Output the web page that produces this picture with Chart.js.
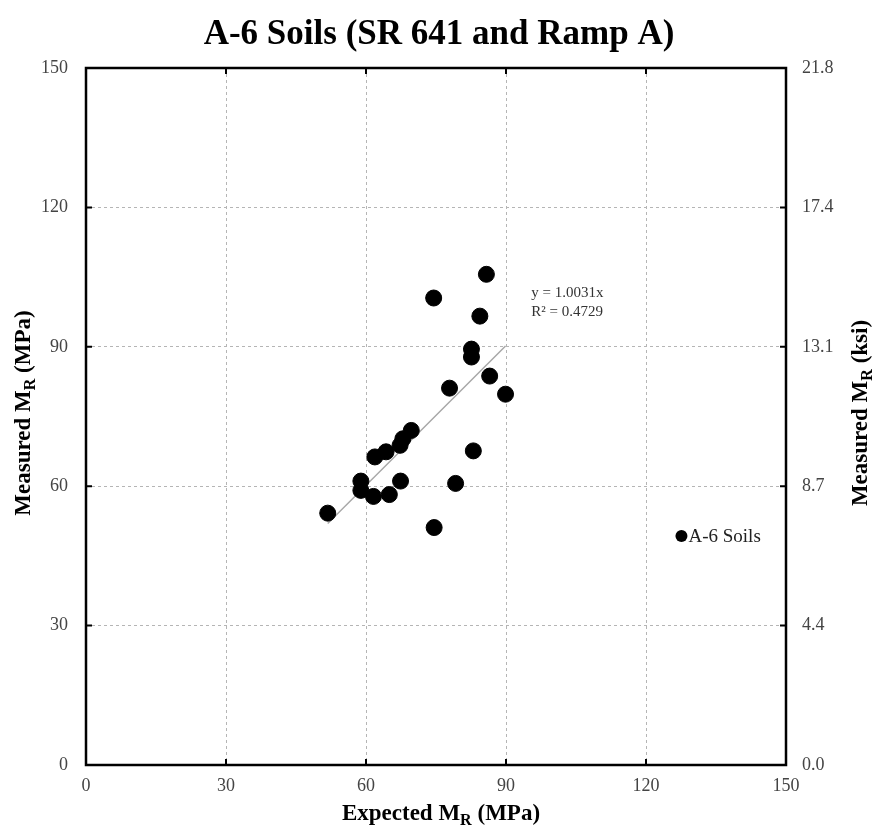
<!DOCTYPE html>
<html>
<head>
<meta charset="utf-8">
<script src="https://cdn.jsdelivr.net/npm/chart.js@4"></script>
<style>
  html, body { margin: 0; background: #fff; }
  #wrap { width: 878px; height: 834px; }
</style>
</head>
<body>
<div id="wrap"><canvas id="chart"></canvas></div>
<script>
// values (MPa)
const expectedMR = [85.8, 74.5, 84.4, 82.6, 82.6, 86.5, 77.9, 89.9, 69.7, 67.9, 67.3,
                    64.3, 61.9, 83.0, 58.9, 58.9, 61.6, 67.4, 65.0, 79.2, 51.8, 74.6];
const measuredMR = [105.6, 100.5, 96.6, 89.5, 87.8, 83.7, 81.1, 79.8, 72.0, 70.2, 68.8,
                    67.4, 66.3, 67.6, 61.1, 59.1, 57.8, 61.1, 58.2, 60.6, 54.2, 51.1];
const seriesLabel = 'A-6 Soils';
const axisTicks = [0, 30, 60, 90, 120, 150];
const ksiPerMPa = 0.145038;
const trendSlope = 1.0031;
const trendR2 = 0.4729;
const trendRange = [51.8, 89.9];

const serif = '"Liberation Serif", "DejaVu Serif", serif';

// text with a subscript part, e.g. M_R
function drawParts(ctx, parts, cx, cy, size) {
    let widths = parts.map(p => {
        ctx.font = 'bold ' + (p.sub ? size * 0.7 : size) + 'px ' + serif;
        return ctx.measureText(p.t).width;
    });
    let total = widths.reduce((a, b) => a + b, 0);
    let x = cx - total / 2;
    ctx.textBaseline = 'middle';
    ctx.textAlign = 'left';
    parts.forEach((p, i) => {
        ctx.font = 'bold ' + (p.sub ? size * 0.7 : size) + 'px ' + serif;
        ctx.fillText(p.t, x, cy + (p.sub ? size * 0.3 : 0));
        x += widths[i];
    });
}

const framePlugin = {
    id: 'frame',
    afterDatasetsDraw(chart) {
        const ctx = chart.ctx;
        const a = chart.chartArea;
        const xs = chart.scales.x, ys = chart.scales.y;
        ctx.save();
        ctx.strokeStyle = '#000';
        ctx.lineWidth = 2.5;
        ctx.strokeRect(a.left, a.top, a.right - a.left, a.bottom - a.top);
        ctx.lineWidth = 2;
        ctx.beginPath();
        axisTicks.forEach(v => {
            const px = xs.getPixelForValue(v);
            ctx.moveTo(px, a.bottom); ctx.lineTo(px, a.bottom - 6);
            ctx.moveTo(px, a.top); ctx.lineTo(px, a.top + 6);
            const py = ys.getPixelForValue(v);
            ctx.moveTo(a.left, py); ctx.lineTo(a.left + 6, py);
            ctx.moveTo(a.right, py); ctx.lineTo(a.right - 6, py);
        });
        ctx.stroke();

        // trendline equation
        ctx.fillStyle = '#333';
        ctx.font = '15px ' + serif;
        ctx.textAlign = 'left';
        ctx.textBaseline = 'middle';
        const ex = xs.getPixelForValue(95.4);
        const ey = ys.getPixelForValue(101.5);
        ctx.fillText('y = ' + trendSlope.toFixed(4) + 'x', ex, ey);
        ctx.fillText('R² = ' + trendR2.toFixed(4), ex, ey + 19);

        // legend inside plot
        const lx = xs.getPixelForValue(127.6);
        const ly = ys.getPixelForValue(49.3);
        ctx.fillStyle = '#000';
        ctx.beginPath();
        ctx.arc(lx, ly, 6, 0, Math.PI * 2);
        ctx.fill();
        ctx.fillStyle = '#222';
        ctx.font = '19px ' + serif;
        ctx.fillText(seriesLabel, lx + 7, ly + 1);
        ctx.restore();
    },
    afterDraw(chart) {
        const ctx = chart.ctx;
        ctx.save();
        ctx.fillStyle = '#000';
        drawParts(ctx, [{t: 'Expected M'}, {t: 'R', sub: true}, {t: ' (MPa)'}], 441, 814, 23);
        ctx.translate(24, 413);
        ctx.rotate(-Math.PI / 2);
        drawParts(ctx, [{t: 'Measured M'}, {t: 'R', sub: true}, {t: ' (MPa)'}], 0, 0, 23);
        ctx.restore();
        ctx.save();
        ctx.fillStyle = '#000';
        ctx.translate(861, 413);
        ctx.rotate(-Math.PI / 2);
        drawParts(ctx, [{t: 'Measured M'}, {t: 'R', sub: true}, {t: ' (ksi)'}], 0, 0, 23);
        ctx.restore();
    }
};

const points = expectedMR.map((x, i) => ({x: x, y: measuredMR[i]}));
const trendPoints = trendRange.map(x => ({x: x, y: trendSlope * x}));

const tickFont = {family: serif, size: 18};
const gridOpts = {color: '#b5b5b5', lineWidth: 1, drawTicks: false};
const borderOpts = {display: false, dash: [3, 3]};

new Chart(document.getElementById('chart'), {
    type: 'scatter',
    data: {
        datasets: [{
            label: seriesLabel,
            data: points,
            backgroundColor: '#000',
            borderColor: '#000',
            pointRadius: 8,
            pointHoverRadius: 8,
            order: 1
        }, {
            type: 'line',
            label: 'trend',
            data: trendPoints,
            borderColor: '#a8a8a8',
            borderWidth: 1.5,
            pointRadius: 0,
            fill: false,
            order: 2
        }]
    },
    options: {
        responsive: true,
        maintainAspectRatio: false,
        animation: false,
        layout: {padding: 0},
        plugins: {
            legend: {display: false},
            tooltip: {enabled: false},
            title: {
                display: true,
                text: 'A-6 Soils (SR 641 and Ramp A)',
                color: '#000',
                font: {family: serif, size: 35, weight: 'bold'},
                padding: {top: 14, bottom: 12}
            }
        },
        scales: {
            x: {
                type: 'linear', min: 0, max: 150,
                ticks: {stepSize: 30, font: tickFont, color: '#444', padding: 10},
                grid: gridOpts,
                border: borderOpts,
                afterFit(s) { s.height = 69; }
            },
            y: {
                type: 'linear', position: 'left', min: 0, max: 150,
                ticks: {stepSize: 30, font: tickFont, color: '#444', padding: 18},
                grid: gridOpts,
                border: borderOpts,
                afterFit(s) { s.width = 86; }
            },
            y2: {
                type: 'linear', position: 'right', min: 0, max: 150,
                ticks: {
                    stepSize: 30, font: tickFont, color: '#444', padding: 16,
                    callback: v => (v * ksiPerMPa).toFixed(1)
                },
                grid: {display: false, drawTicks: false},
                border: {display: false},
                afterFit(s) { s.width = 92; }
            }
        }
    },
    plugins: [framePlugin]
});
</script>
</body>
</html>
